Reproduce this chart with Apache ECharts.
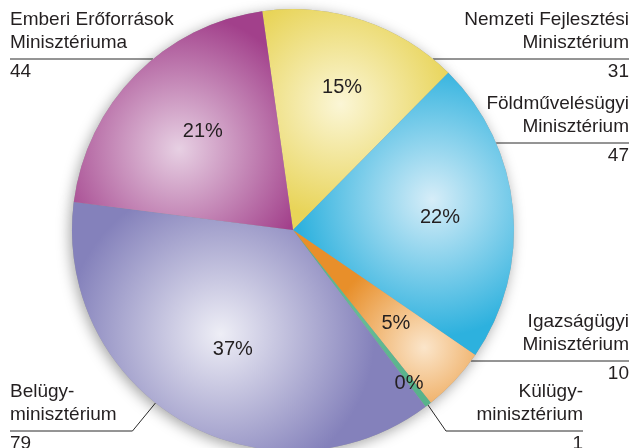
<!DOCTYPE html>
<html><head><meta charset="utf-8">
<script src="https://cdn.jsdelivr.net/npm/echarts@6/dist/echarts.min.js"></script>
<style>html,body{margin:0;padding:0;background:#fff}#c{width:631px;height:448px}</style>
</head><body><div id="c"></div>
<script>
// ---- data ----
const categories = [
  'Nemzeti Fejlesztési\nMinisztérium',
  'Földművelésügyi\nMinisztérium',
  'Igazságügyi\nMinisztérium',
  'Külügy-\nminisztérium',
  'Belügy-\nminisztérium',
  'Emberi Erőforrások\nMinisztériuma'
];
const values = [31, 47, 10, 1, 79, 44];

// ---- layout & style ----
const PIE_CENTER = [293, 230];
const PIE_R = 221;
const FONT = 'Liberation Sans, Arial, Helvetica, sans-serif';
const TEXT_COLOR = '#231f20';
const sliceColors = [
  ['#fbf6d6', '#e8d458'],
  ['#d6edf8', '#2db1de'],
  ['#fbe5ca', '#e88f2a'],
  ['#66bb96', '#58b38b'],
  ['#eeeef6', '#8481bb'],
  ['#e7d0e3', '#a2408b']
];
// radial gradient centre (relative to slice bounding box) and radius
const gradCenter = [[0.42, 0.43], [0.63, 0.45], [0.72, 0.68], [0.5, 0.5], [0.42, 0.53], [0.48, 0.63]];
const gradRadius = [0.62, 0.62, 0.56, 0.6, 0.62, 0.62];
const outerLayout = [
  {side: 1, lineY: 59, textX: 629},
  {side: 1, lineY: 143, textX: 629},
  {side: 1, lineY: 361, textX: 629},
  {side: 1, lineY: 431, textX: 583, startY: 405, bendDx: 18},
  {side: -1, lineY: 431, textX: 10, startY: 403, bendDx: -23},
  {side: -1, lineY: 59, textX: 10}
];
// [radius fraction, angle offset in degrees] for the percentage labels
const innerLabelPolar = [
  [0.688, -0.5], [0.668, -0.1], [0.625, 1.1], [0.865, -0.35], [0.599, 3.2], [0.609, -3.3]
];

const chart = echarts.init(document.getElementById('c'), null, {renderer: 'canvas'});
const cx = PIE_CENTER[0], cy = PIE_CENTER[1];

const option = {
  animation: false,
  backgroundColor: '#ffffff',
  series: [
    {
      // base disk: drop shadow + outside labels
      type: 'pie',
      center: PIE_CENTER,
      radius: PIE_R,
      startAngle: 98,
      clockwise: true,
      silent: true,
      avoidLabelOverlap: false,
      data: values.map((v, i) => ({name: categories[i], value: v})),
      itemStyle: {
        color: '#9a9a9a', borderWidth: 0,
        shadowBlur: 14, shadowColor: 'rgba(0,0,0,0.36)',
        shadowOffsetX: -2, shadowOffsetY: 3
      },
      label: {
        show: true,
        position: 'outside',
        fontFamily: FONT,
        color: TEXT_COLOR,
        formatter: p => '{n|' + p.name + '}\n{v|' + p.value + '}',
        rich: {
          n: {fontSize: 19, lineHeight: 23, fontFamily: FONT, color: TEXT_COLOR},
          v: {fontSize: 19, lineHeight: 35, fontFamily: FONT, color: TEXT_COLOR}
        }
      },
      labelLine: {show: true, lineStyle: {color: '#2a2a2a', width: 1}},
      labelLayout: function (p) {
        const L = outerLayout[p.dataIndex];
        const sy = L.startY != null ? L.startY : L.lineY;
        const sx = cx + L.side * Math.sqrt(PIE_R * PIE_R - (sy - cy) * (sy - cy));
        const bx = L.bendDx != null ? sx + L.bendDx : sx;
        return {
          x: L.textX,
          y: L.lineY - 50.5,
          align: L.side > 0 ? 'right' : 'left',
          verticalAlign: 'top',
          labelLinePoints: [[sx, sy], [bx, L.lineY], [L.textX, L.lineY]]
        };
      }
    },
    {
      // shaded slices + percentage labels
      type: 'pie',
      center: PIE_CENTER,
      radius: PIE_R,
      startAngle: 98,
      clockwise: true,
      silent: true,
      avoidLabelOverlap: false,
      percentPrecision: 0,
      data: values.map((v, i) => ({
        name: categories[i],
        value: v,
        itemStyle: {
          color: {
            type: 'radial', x: gradCenter[i][0], y: gradCenter[i][1], r: gradRadius[i],
            colorStops: [
              {offset: 0, color: sliceColors[i][0]},
              {offset: 1, color: sliceColors[i][1]}
            ]
          }
        }
      })),
      itemStyle: {borderWidth: 0},
      label: {
        show: true,
        position: 'inside',
        formatter: '{d}%',
        fontSize: 20,
        fontFamily: FONT,
        color: TEXT_COLOR
      },
      labelLine: {show: false},
      labelLayout: function (p) {
        const r = p.labelRect;
        const lx = r.x + r.width / 2, ly = r.y + r.height / 2;
        const mid = Math.atan2(ly - cy, lx - cx); // screen-space mid angle from library layout
        const pol = innerLabelPolar[p.dataIndex];
        const a = mid - pol[1] * Math.PI / 180;
        const rr = PIE_R * pol[0];
        return {
          x: cx + rr * Math.cos(a),
          y: cy + rr * Math.sin(a) + 1.5,
          align: 'center',
          verticalAlign: 'middle'
        };
      }
    }
  ]
};
chart.setOption(option);
</script>
</body></html>
